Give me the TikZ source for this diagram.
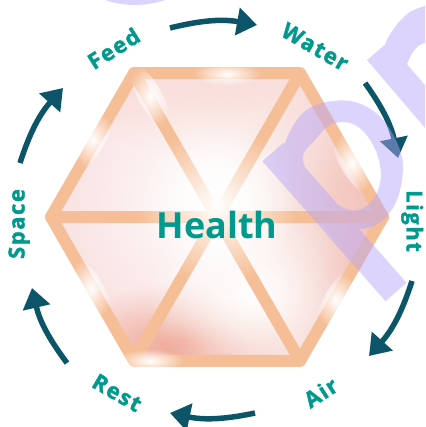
\documentclass[tikz,border=0pt]{standalone}
\usepackage{fontspec}
\setmainfont{Open Sans}
\newfontfamily\ringfont[LetterSpace=7, FakeBold=1.6]{Open Sans}
\usetikzlibrary{arrows.meta,fadings}

\definecolor{hubteal}{RGB}{0,153,141}
\definecolor{cycleblue}{RGB}{12,84,104}
\definecolor{peach}{RGB}{246,190,150}
\definecolor{blush}{RGB}{249,224,224}
\definecolor{rosy}{RGB}{240,182,170}
\definecolor{salmon}{RGB}{236,152,130}
\definecolor{lilac}{RGB}{182,165,249}

\tikzfading[name=softglow, inner color=transparent!0, outer color=transparent!100]

\tikzset{
  stage/.style={font=\ringfont\bfseries\fontsize{22}{22}\selectfont, text=hubteal,
    inner sep=0pt, text height=15pt, text depth=0pt},
  cyclearrow/.style={cycleblue, line width=5.5pt, -{Triangle[length=20pt,width=27pt]}},
  band/.style={peach, line width=12pt, line join=round, line cap=round},
  glint/.style={white, path fading=softglow},
}

\begin{document}
\begin{tikzpicture}[x=1pt,y=1pt]
\useasboundingbox (0,0) rectangle (425,-427);
\clip (0,0) rectangle (425,-427);

% hexagon centre and corners
\coordinate (O) at (217,-217);
\foreach \a in {0,60,...,300} \path (O) ++(\a:166) coordinate (H\a);

% soft pink body of the hexagon
\begin{scope}
  \clip (H0)--(H60)--(H120)--(H180)--(H240)--(H300)--cycle;
  \fill[blush] (40,-60) rectangle (400,-370);
  \fill[rosy, path fading=softglow] (335,-190) ellipse (120 and 100);
  \fill[rosy, path fading=softglow] (330,-270) ellipse (120 and 110);
  \fill[rosy!70, path fading=softglow] (217,-100) ellipse (140 and 60);
  \fill[salmon, path fading=softglow] (185,-340) ellipse (110 and 60);
  \fill[white, path fading=softglow] (217,-200) ellipse (170 and 170);
  \fill[white, path fading=softglow] (255,-295) ellipse (110 and 90);
\end{scope}

% frame of six triangles
\draw[band] (H0)--(H60)--(H120)--(H180)--(H240)--(H300)--cycle;
\draw[band] (H0)--(H180) (H60)--(H240) (H120)--(H300);

% light glints along the frame
\foreach \x/\y/\r in {227/74/0, 150/361/0, 93/140/60, 352/163/-60,
                      336/300/60, 91/288/-60, 150/96/-60}
  \fill[glint, shift={(\x,-\y)}, rotate=\r] (0,0) ellipse (34 and 12);
\fill[glint] (217,-205) ellipse (80 and 80);

% centre word
\node[font=\fontsize{36}{36}\selectfont\bfseries, text=hubteal, anchor=base]
  (hub) at (217,-238) {Health};

% the six stages around the ring
\node[stage, rotate=32]  (feed)  at (114,-49)  {Feed};
\node[stage, rotate=-30] (water) at (315,-47)  {Water};
\node[stage, rotate=-90] (light) at (414,-221) {Light};
\node[stage, rotate=33]  (air)   at (321,-393) {Air};
\node[stage, rotate=-30] (rest)  at (117,-393) {Rest};
\node[stage, rotate=90]  (space) at (17,-224)  {Space};

% clockwise arrows between the stages
\coordinate (a1s) at (170,-28);  \coordinate (a1e) at (257,-25);
\coordinate (a2s) at (365,-83);  \coordinate (a2e) at (398,-158);
\coordinate (a3s) at (412,-281); \coordinate (a3e) at (369,-356);
\coordinate (a4s) at (255,-413); \coordinate (a4e) at (170,-413);
\coordinate (a5s) at (67,-363);  \coordinate (a5e) at (32,-288);
\coordinate (a6s) at (20,-163);  \coordinate (a6e) at (63,-88);
\foreach \i in {1,...,6}
  \draw[cyclearrow] (a\i s) to[bend left=12] (a\i e);

% translucent lettering laid over the corner
\begin{scope}[yscale=-1]
  \fill[lilac, opacity=0.48]
    (135,-88) circle (93)
    (283.5,142.8)--(406.5,282.8)--(385.5,301.2)--(262.5,161.2)--cycle
    plot[smooth cycle, tension=0.7] coordinates {(285,170)(297,120)(333,101)(372,110)(398,145)(402,180)(388,215)(360,229)(330,220)}
    plot[smooth cycle, tension=0.7] coordinates {(335,123)(315,140)(303,160)(320,188)(350,210)(374,198)(380,165)(362,130)}
    (388,42)--(453,118)--(432,136)--(367,60)--cycle
    plot[smooth cycle] coordinates {(385,48)(395,27)(410,12)(430,5)(460,5)(460,45)(425,43)(413,52)(403,67)};
\end{scope}
\end{tikzpicture}
\end{document}
